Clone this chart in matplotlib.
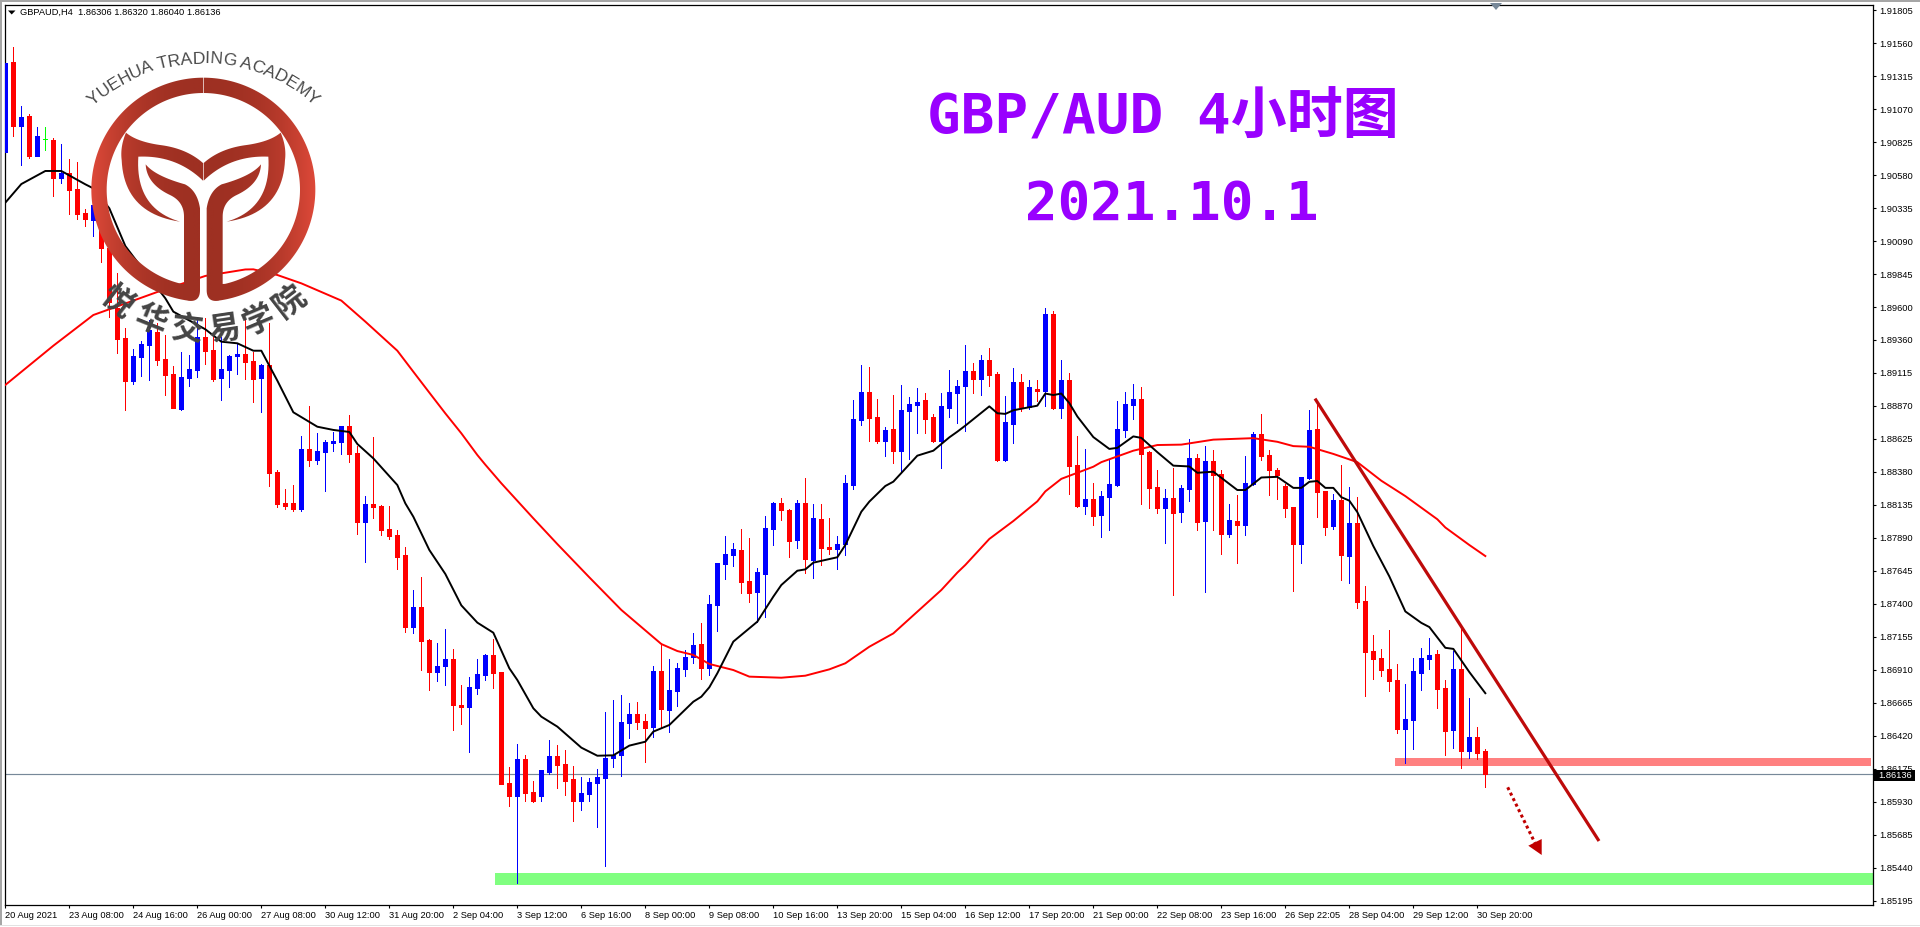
import numpy as np
import matplotlib
matplotlib.use("Agg")
import matplotlib.pyplot as plt
from matplotlib.path import Path
from matplotlib.patches import PathPatch, Polygon, Rectangle
from matplotlib.font_manager import FontProperties
from matplotlib.textpath import TextToPath
from matplotlib.colors import LinearSegmentedColormap
from matplotlib.transforms import ScaledTranslation

# --- values, in 1e-5 price units -------------------------------------------
open_ = [190755,191421,190948,191020,190726,190847,190842,190562,190597,190476,
190298,190248,190174,190038,189593,189372,189053,189234,189320,189419,
189214,189105,188845,189078,189135,189380,189283,189076,189135,189239,
189254,189202,189076,189172,188378,188148,188148,188103,188549,188467,
188526,188596,188600,188719,188519,188007,188140,188126,187955,187910,
187762,187227,187376,187131,186893,186938,186990,186648,186634,186775,
186871,187020,186893,186070,185973,186248,186003,185973,186151,186270,
186211,186099,185936,185988,186070,186107,186255,186277,186515,186582,
186530,186485,186901,186611,186752,186916,187005,187101,186923,187391,
187695,187762,187799,187569,187487,187621,187955,188148,188096,187873,
188148,187725,188029,187821,187806,187843,188281,188764,188972,188786,
188608,188697,188534,188831,188875,188912,188786,188608,188853,188964,
189016,189127,189071,189209,189106,188467,188735,189045,188859,188995,
188981,189551,188854,189061,188430,188125,188178,188059,188191,188279,
188690,188875,188920,188525,188266,188114,188186,188080,188252,188483,
188014,188459,188361,187918,188014,187985,188287,188661,188504,188393,
188274,188117,187844,188332,188698,188236,187974,188170,187754,188001,
187420,187049,186999,186914,186834,186471,186537,186887,186993,187028,
186776,186463,186916,186307,186410,186306]
close = [191411,190948,191013,190726,190872,190847,190562,190597,190473,190295,
190258,190357,190043,189642,189365,189053,189239,189328,189432,189209,
189098,188853,189080,189142,189380,189276,189066,189142,189239,189254,
189194,189068,189172,188373,188140,188126,188103,188549,188467,188534,
188600,188608,188719,188511,188007,188140,188118,187947,187903,187747,
187227,187376,187123,186893,186938,186990,186648,186634,186782,186879,
187020,186886,186062,185973,186248,185995,185936,186166,186270,186203,
186084,185936,185995,186077,186114,186255,186277,186522,186582,186522,
186478,186901,186619,186760,186923,187005,187094,186923,187398,187705,
187769,187806,187561,187480,187636,187962,188148,188096,187866,188148,
187732,188036,187814,187806,187843,188296,188771,188972,188779,188608,
188690,188534,188838,188883,188897,188771,188608,188868,188972,189016,
189127,189069,189209,189098,188467,188748,189045,188859,189008,188979,
189551,188854,189061,188422,188125,188178,188051,188199,188289,188698,
188883,188920,188512,188260,188114,188186,188075,188260,188483,188006,
188459,188358,187918,188022,187985,188297,188661,188496,188393,188356,
188112,187844,188340,188690,188228,187969,188170,187762,188001,187412,
187041,186993,186908,186829,186471,186543,186900,186999,187020,186768,
186455,186916,186307,186410,186293,186136]
high = [191515,191530,191094,191032,190938,190938,190854,190812,190701,190676,
190327,190397,190248,190063,189852,189444,189291,189348,189506,189481,
189395,189165,189268,189246,189531,189518,189395,189382,189246,189333,
189506,189268,189179,189481,188393,188252,188281,188645,188868,188667,
188615,188675,188719,188801,188571,188200,188638,188133,188126,187947,
187821,187502,187599,187138,187109,187213,187064,186797,186856,186990,
187027,187138,186893,186188,186359,186277,186084,186166,186389,186352,
186314,186196,186114,186107,186173,186597,186686,186723,186663,186671,
186582,186938,187106,186990,186960,187057,187180,187255,187465,187705,
187903,187848,187955,187888,187663,188051,188155,188185,188103,188170,
188333,188140,188140,188036,187903,188356,188912,189172,189157,188920,
188712,188949,189024,188934,189001,188964,188808,188964,189135,189061,
189321,189188,189246,189299,189122,188942,189151,189103,189061,189061,
189596,189570,189209,189111,188645,188549,188297,188239,188464,188902,
188971,189032,189008,188531,188393,188250,188411,188279,188621,188509,
188570,188541,188390,188141,188207,188496,188674,188809,188541,188406,
188292,188117,188340,188838,188889,188239,188213,188430,188266,188191,
187531,187168,187062,187205,186954,186802,186999,187073,187147,187057,
186834,187046,187232,186702,186484,186320]
low = [190748,190874,190659,190711,190726,190770,190429,190523,190295,190258,
190204,190132,189936,189531,189264,188838,189031,189090,189061,189172,
188949,188853,188840,189016,189083,189179,189053,188912,189009,189105,
189068,188897,188823,188274,188118,188103,188088,188088,188422,188437,
188237,188534,188511,188452,187918,187710,188036,187910,187881,187658,
187190,187183,186908,186760,186827,186797,186463,186508,186300,186730,
186834,186775,186062,185899,185327,185936,185929,185936,186136,186032,
185981,185788,185869,185936,185743,185454,186188,186122,186404,186470,
186225,186411,186485,186448,186641,186864,186958,186841,186871,187198,
187584,187680,187480,187413,187267,187304,187836,188022,187747,187814,
187628,187591,187688,187769,187658,187762,188252,188727,188608,188593,
188497,188445,188385,188474,188667,188667,188600,188408,188786,188741,
188682,188963,188949,189016,188459,188459,188594,188828,188849,188902,
188870,188846,188775,188215,188117,188067,187985,187894,187948,188271,
188637,188769,188141,188114,188075,187852,187465,188006,188160,187948,
187486,187948,187770,187894,187704,187910,188279,188470,188207,188178,
188043,187494,187704,188324,188043,187910,187958,187576,187555,187370,
186715,186842,186861,186755,186437,186219,186323,186760,186916,186627,
186278,186331,186182,186256,186251,186040]

fast_ma_bar = [0,2,5,7,10,11,13,15,16,20,21,25,27,29,31,32,34,36,39,41,43,44,46,49,50,51,53,55,57,59,
61,63,64,66,67,69,72,74,76,78,80,81,83,86,87,88,89,91,94,96,97,99,100,101,104,105,107,108,110,111,114,116,118,119,
120,123,124,125,126,129,130,131,132,133,134,136,138,139,141,142,144,146,148,149,151,154,155,157,159,161,162,163,164,165,166,167,168,169,171,173,175,177,178,180,181,183,185]
fast_ma = [190377,190515,190612,190612,190513,190483,190335,190055,189976,189667,189568,189437,189345,189333,189278,189278,189056,188821,188714,188690,188675,188586,188479,188281,188145,188046,187799,187621,187388,187260,
187185,186921,186834,186624,186562,186488,186332,186272,186275,186347,186376,186451,186500,186673,186710,186780,186884,187119,187267,187453,187539,187645,187655,187705,187745,187836,188083,188158,188274,188306,188499,188536,188635,188677,
188722,188865,188814,188809,188836,188870,188960,188949,188960,188889,188790,188637,188549,188557,188642,188631,188525,188425,188419,188372,188380,188244,188244,188337,188342,188260,188260,188305,188311,188260,188260,188191,188165,188080,187828,187603,187343,187258,187227,187073,187065,186893,186736]
slow_ma_bar = [0,6,11,19,25,30,31,34,37,42,45,49,51,53,55,57,59,60,62,66,69,73,77,82,84,86,88,91,93,97,100,103,105,108,111,114,117,119,
120,123,126,129,130,132,136,137,141,144,147,151,156,159,161,163,166,169,172,175,179,180,183,185]
slow_ma = [189024,189315,189543,189714,189833,189881,189882,189840,189778,189650,189494,189278,189122,188967,188813,188665,188504,188432,188294,188034,187843,187596,187354,187101,187049,187020,186953,186908,186859,186851,186866,186913,186958,187081,187180,187341,187502,187631,
187688,187881,188014,188160,188234,188327,188417,188451,188536,188578,188581,188618,188629,188602,188570,188565,188512,188451,188313,188199,188027,187966,187836,187754]

time_labels = ["20 Aug 2021","23 Aug 08:00","24 Aug 16:00","26 Aug 00:00","27 Aug 08:00","30 Aug 12:00",
"31 Aug 20:00","2 Sep 04:00","3 Sep 12:00","6 Sep 16:00","8 Sep 00:00","9 Sep 08:00","10 Sep 16:00",
"13 Sep 20:00","15 Sep 04:00","16 Sep 12:00","17 Sep 20:00","21 Sep 00:00","22 Sep 08:00","23 Sep 16:00",
"26 Sep 22:05","28 Sep 04:00","29 Sep 12:00","30 Sep 20:00"]
price_ticks = [1.91805,1.91560,1.91315,1.91070,1.90825,1.90580,1.90335,1.90090,1.89845,1.89600,
1.89360,1.89115,1.88870,1.88625,1.88380,1.88135,1.87890,1.87645,1.87400,1.87155,
1.86910,1.86665,1.86420,1.86175,1.85930,1.85685,1.85440,1.85195]
last_price = 1.86136
support_band = (1.85313, 1.85399)
resistance_band = (1.86196, 1.86255)

# --- figure ----------------------------------------------------------------
W, H = 1920, 927
fig = plt.figure(figsize=(W/100, H/100), dpi=100, facecolor="white")
L, R, T, B = 4.5, 1872.5, 4.5, 904.5
ax = fig.add_axes([L/W, 1-B/H, (R-L)/W, (B-T)/H])
X0, DX = 5.33, 8.0      # pixel of bar 0 and pixels per bar
ax.set_xlim((L-X0)/DX, (R-X0)/DX)
ax.set_ylim(1.91881-7.422e-5*B, 1.91881-7.422e-5*T)

o, c, h, l = [np.array(a)/1e5 for a in (open_, close, high, low)]
idx = np.arange(len(o))
cols = np.where(c > o, "#0000FF", np.where(c < o, "#FF0000", "#00FF00"))

ax.axhspan(*support_band, xmin=(495-L)/(R-L), xmax=(1873.7-L)/(R-L), color="#80FF80", lw=0, zorder=1, clip_on=False)
ax.axhspan(*resistance_band, xmin=(1395-L)/(R-L), xmax=(1871-L)/(R-L), color="#FF8080", lw=0, zorder=1)
ax.axhline(last_price, color="#778899", lw=0.85, zorder=1.5)

ax.vlines(idx, l, h, colors=cols, lw=0.7, zorder=2, antialiased=False)
ax.bar(idx, np.abs(c-o), bottom=np.minimum(o, c), width=0.5, color=cols, edgecolor=cols, lw=0.72, zorder=3, antialiased=False)
ax.plot(slow_ma_bar, np.array(slow_ma)/1e5, color="#FF0000", lw=1.4, zorder=4, solid_joinstyle="round")
ax.plot(fast_ma_bar, np.array(fast_ma)/1e5, color="#000000", lw=1.4, zorder=5, solid_joinstyle="round")

font = dict(family="Liberation Sans", fontsize=6.7, color="#000000")
ax.yaxis.tick_right()
ax.set_yticks(price_ticks)
ax.set_yticklabels([f"{p:.5f}" for p in price_ticks], **font)
ax.set_xticks(idx[::8][:len(time_labels)])
ax.set_xticklabels(time_labels, ha="left", **font)
off = ScaledTranslation(-1.5/100, 0, fig.dpi_scale_trans)
for t in ax.get_xticklabels():
    t.set_transform(t.get_transform() + off)
ax.tick_params(axis="x", length=2.4, width=0.8, pad=2.2, color="black")
ax.tick_params(axis="y", length=2.4, width=0.8, pad=2.2, color="black")
for s in ax.spines.values():
    s.set_linewidth(0.9)
    s.set_color("black")

# --- overlay in figure pixels ---------------------------------------------
ov = fig.add_axes([0, 0, 1, 1], zorder=10)
ov.patch.set_visible(False)
ov.axis("off")

ov.add_patch(Rectangle((0, 0), W, 2, color="#A6A6A6", lw=0))
ov.add_patch(Rectangle((0, 0), 2, 925, color="#A6A6A6", lw=0))
ov.add_patch(Rectangle((0, 924.5), W, 1.2, color="#E2E2E2", lw=0))

# window header
ov.add_patch(Polygon([(8, 10.5), (15.5, 10.5), (11.7, 14.5)], color="black", lw=0))
ov.text(20, 12.6, f"GBPAUD,H4  1.86306 1.86320 1.86040 {last_price:.5f}", fontsize=6.7, family="Liberation Sans", va="center", ha="left", color="black")
ov.add_patch(Polygon([(1490, 3), (1502, 3), (1496, 10)], color="#778899", lw=0))

# current price tag
ov.add_patch(Rectangle((1874, 770), 41, 10.8, color="black", lw=0))
ov.text(1878.7, 775.6, f"{last_price:.5f}", fontsize=6.7, family="Liberation Sans", color="white", va="center", ha="left")

# title
title_font = dict(family=["DejaVu Sans Mono", "Noto Sans CJK SC"], fontweight="bold", color="#9900FF", ha="left", va="baseline")
ov.text(927, 133, "GBP/AUD 4小时图", fontsize=40.3, **title_font)
ov.text(1025, 220, "2021.10.1", fontsize=39, **title_font)

# trend line and arrow
ov.plot([1315, 1599], [398.6, 841], color="#BE0A0A", lw=2.3, solid_capstyle="butt")
ov.plot([1507.7, 1535], [787.3, 843], color="#C00000", lw=2.2, ls=(0, (1, 1)))
ov.add_patch(Polygon([(1528.3, 845.7), (1541.7, 839), (1541.7, 855)], color="#C00000", lw=0))

# logo: coordinates in a 3x grid, then scaled
def quad(p0, c1, p1, n=24):
    t = np.linspace(0, 1, n)[:, None]
    p0, c1, p1 = map(np.array, (p0, c1, p1))
    return (1-t)**2*p0 + 2*t*(1-t)*c1 + t**2*p1

CX, CY, RO, RI = 610, 569, 336, 290
def arc(r, a0, a1, n=120):
    a = np.radians(np.linspace(a0, a1, n))
    return np.c_[CX + r*np.cos(a), CY - r*np.sin(a)]

ring_half = np.vstack([
    arc(RO, 90, 262),
    quad((563, 902), (600, 908), (600, 870)),
    quad((600, 625), (592, 572), (555, 553)),
    quad((555, 553), (465, 528), (437, 493)),
    quad((437, 493), (440, 552), (510, 585)),
    quad((510, 585), (552, 605), (552, 650)),
    [(552, 852)],
    arc(RI, 257, 90),
])
tail_half = np.vstack([
    quad((610, 490), (560, 445), (480, 435)),
    quad((480, 435), (410, 425), (378, 398)),
    quad((378, 398), (360, 440), (365, 480)),
    quad((365, 480), (372, 640), (540, 665)),
    quad((540, 665), (405, 625), (415, 470)),
    quad((415, 470), (530, 465), (610, 543)),
])
polys = []
for poly in (ring_half, tail_half):
    polys.append(poly/3)
    m = poly.copy()
    m[:, 0] = 2*CX - m[:, 0]
    polys.append(m/3)
verts, codes = [], []
for p in polys:
    verts += [tuple(q) for q in p] + [tuple(p[0])]
    codes += [Path.MOVETO] + [Path.LINETO]*(len(p)-1) + [Path.CLOSEPOLY]
logo_path = Path(verts, codes)
clip = PathPatch(logo_path, transform=ov.transData, fc="none", ec="none")
ov.add_patch(clip)
grad_x = np.linspace(-1, 1, 300)
grad = np.abs(grad_x)[None, :]**2.4
cmap = LinearSegmentedColormap.from_list("logo", ["#9E3022", "#E04A3A"])
im = ov.imshow(grad, extent=(CX/3-113, CX/3+113, 305, 75), cmap=cmap, aspect="auto", zorder=6, vmin=0, vmax=1)
im.set_clip_path(clip)
ov.set_xlim(0, W)
ov.set_ylim(H, 0)

# logo lettering along two arcs
latin = "YUEHUA TRADING ACADEMY"
prop = FontProperties(family="Liberation Sans", size=12.6)
tp = TextToPath()
widths = [tp.get_text_width_height_descent(ch, prop, False)[0] for ch in latin]
total = sum(widths)
span = np.radians(84.0)
acc = 0.0
for ch, w in zip(latin, widths):
    phi = -span/2 + span*(acc + w/2)/total
    acc += w
    ov.text(CX/3 + 165*np.sin(phi), 228.3 - 165*np.cos(phi), ch, fontproperties=prop, color="#4A4A4A",
            rotation=-np.degrees(phi), rotation_mode="anchor", ha="center", va="baseline", zorder=7)

cjk = "悦华交易学院"
cjk_angles = [-37.7, -22.0, -6.8, 8.4, 22.9, 37.8]
for ch, s in zip(cjk, cjk_angles):
    a = np.radians(s)
    ov.text(CX/3 + 141.7*np.sin(a), CY/3 + 141.7*np.cos(a), ch, family="Noto Sans CJK SC", fontweight="bold",
            fontsize=23, color="#444444", rotation=s, rotation_mode="anchor", ha="center", va="center", zorder=7)

fig.savefig("out.png", dpi=100, facecolor="white")
